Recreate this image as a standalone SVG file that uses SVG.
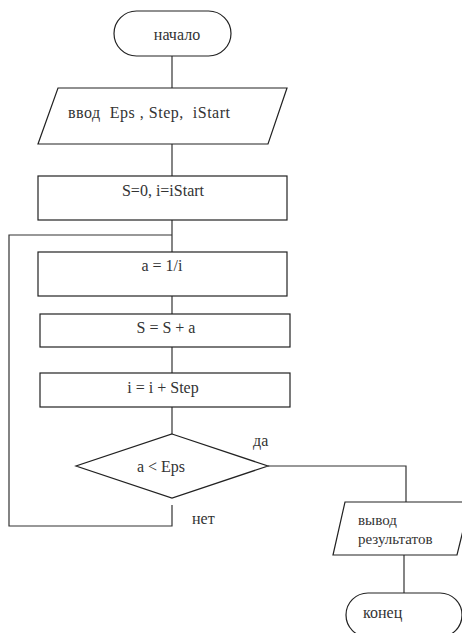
<svg xmlns="http://www.w3.org/2000/svg" width="462" height="633" viewBox="0 0 462 633">
<style>
.s{fill:#fff;stroke:#222;stroke-width:1.2}
.c{fill:none;stroke:#333;stroke-width:1.2}
text{font-family:"Liberation Serif","Times New Roman",serif;font-size:16px;fill:#333;white-space:pre}
.m{text-anchor:middle}
.r{font-size:15px}
</style>
<rect width="462" height="633" fill="#fff"/>
<g id="connectors">
<path class="c" d="M172 56V88"/>
<path class="c" d="M172 144V176"/>
<path class="c" d="M172 220V252"/>
<path class="c" d="M172 235H9V526H172V505"/>
<path class="c" d="M172 296V314"/>
<path class="c" d="M172 347V373"/>
<path class="c" d="M172 407V434"/>
<path class="c" d="M268 466H406V502"/>
<path class="c" d="M404 555V593"/>
</g>
<g id="start">
<rect class="s" x="114" y="11" width="117" height="45" rx="22.5"/>
<text class="m" x="177" y="40">начало</text>
</g>
<g id="input">
<polygon class="s" points="58,88 287,88 268,144 38,144"/>
<text x="68" y="118" xml:space="preserve" textLength="162" lengthAdjust="spacing">ввод  Eps , Step,  iStart</text>
</g>
<g id="init">
<rect class="s" x="38" y="176" width="249" height="44"/>
<text class="m" x="163" y="196">S=0, i=iStart</text>
</g>
<g id="calc-a">
<rect class="s" x="38" y="252" width="249" height="44"/>
<text class="m" x="162" y="271">a = 1/i</text>
</g>
<g id="sum">
<rect class="s" x="40" y="314" width="250" height="33"/>
<text class="m" x="166" y="333">S = S + a</text>
</g>
<g id="step">
<rect class="s" x="40" y="373" width="250" height="34"/>
<text class="m" x="163" y="393">i = i + Step</text>
</g>
<g id="cond">
<polygon class="s" points="172,434 268,466 172,498 76,466"/>
<text class="m" x="161" y="472">a &lt; Eps</text>
<text x="253" y="446">да</text>
<text x="192" y="524">нет</text>
</g>
<g id="output">
<polygon class="s" points="345,502 470,502 457,555 333,555"/>
<text class="r" x="358" y="525">вывод</text>
<text class="r" x="358" y="544">результатов</text>
</g>
<g id="end">
<rect class="s" x="346" y="593" width="116" height="44" rx="22"/>
<text x="363" y="618">конец</text>
</g>
</svg>
